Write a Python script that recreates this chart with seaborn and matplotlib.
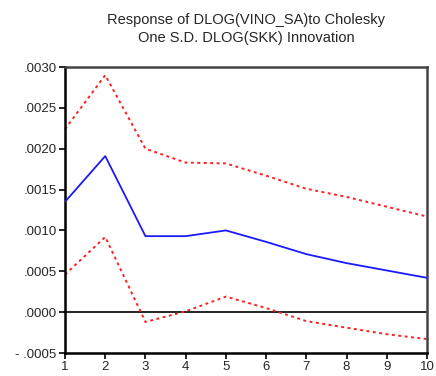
import matplotlib
matplotlib.use("Agg")
import matplotlib.pyplot as plt
import seaborn as sns
import pandas as pd

# Impulse response of DLOG(VINO_SA) to a Cholesky shock in DLOG(SKK)
periods = [1, 2, 3, 4, 5, 6, 7, 8, 9, 10]
response = [0.00135, 0.00191, 0.00093, 0.00093, 0.00100, 0.00086, 0.00071, 0.00060, 0.00051, 0.00042]
upper_band = [0.00224, 0.00290, 0.00200, 0.00183, 0.00182, 0.00167, 0.00151, 0.00141, 0.00129, 0.00117]
lower_band = [0.00046, 0.00092, -0.00012, 0.00001, 0.00019, 0.00005, -0.00011, -0.00019, -0.00027, -0.00033]
y_ticks = [-0.0005, 0.0, 0.0005, 0.0010, 0.0015, 0.0020, 0.0025, 0.0030]
y_labels = ["- .0005", ".0000", ".0005", ".0010", ".0015", ".0020", ".0025", ".0030"]
title_lines = ["Response of DLOG(VINO_SA)to Cholesky", "One S.D. DLOG(SKK) Innovation"]

df = pd.DataFrame({"period": periods, "response": response,
                   "upper": upper_band, "lower": lower_band})

sns.set_style("white")
plt.rcParams["font.family"] = ["Liberation Sans", "DejaVu Sans"]

fig = plt.figure(figsize=(4.36, 3.76), dpi=100)
ax = fig.add_axes([65 / 436, 1 - 353 / 376, (427 - 65) / 436, (353 - 67) / 376])

ax.axhline(0, color="black", lw=1.2, zorder=1)
sns.lineplot(data=df, x="period", y="upper", ax=ax, color="#ff2020", lw=1.4,
             linestyle=(0, (1.5, 1.8)), zorder=2)
sns.lineplot(data=df, x="period", y="lower", ax=ax, color="#ff2020", lw=1.4,
             linestyle=(0, (1.5, 1.8)), zorder=2)
sns.lineplot(data=df, x="period", y="response", ax=ax, color="#1a1aff", lw=1.3, zorder=3)

ax.set_xlim(1, 10)
ax.set_ylim(-0.0005, 0.0030)
ax.set_xticks(periods)
ax.set_xticklabels([str(p) for p in periods], fontsize=9.5)
ax.set_yticks(y_ticks)
ax.set_yticklabels(y_labels, fontsize=9.5)
ax.set_xlabel("")
ax.set_ylabel("")
ax.tick_params(axis="both", direction="out", length=4, width=1.2, color="black",
               pad=2, left=True, bottom=True)

for side in ["left", "bottom"]:
    ax.spines[side].set_color("black")
    ax.spines[side].set_linewidth(1.8)
for side in ["top", "right"]:
    ax.spines[side].set_color("#444444")
    ax.spines[side].set_linewidth(1.8)

# Two-line heading centred over the plotting area
fig.text(246 / 436, 1 - 20 / 376, title_lines[0], ha="center", va="center", fontsize=10.5)
fig.text(246 / 436, 1 - 38 / 376, title_lines[1], ha="center", va="center", fontsize=10.5)

fig.savefig("out.png", dpi=100)
